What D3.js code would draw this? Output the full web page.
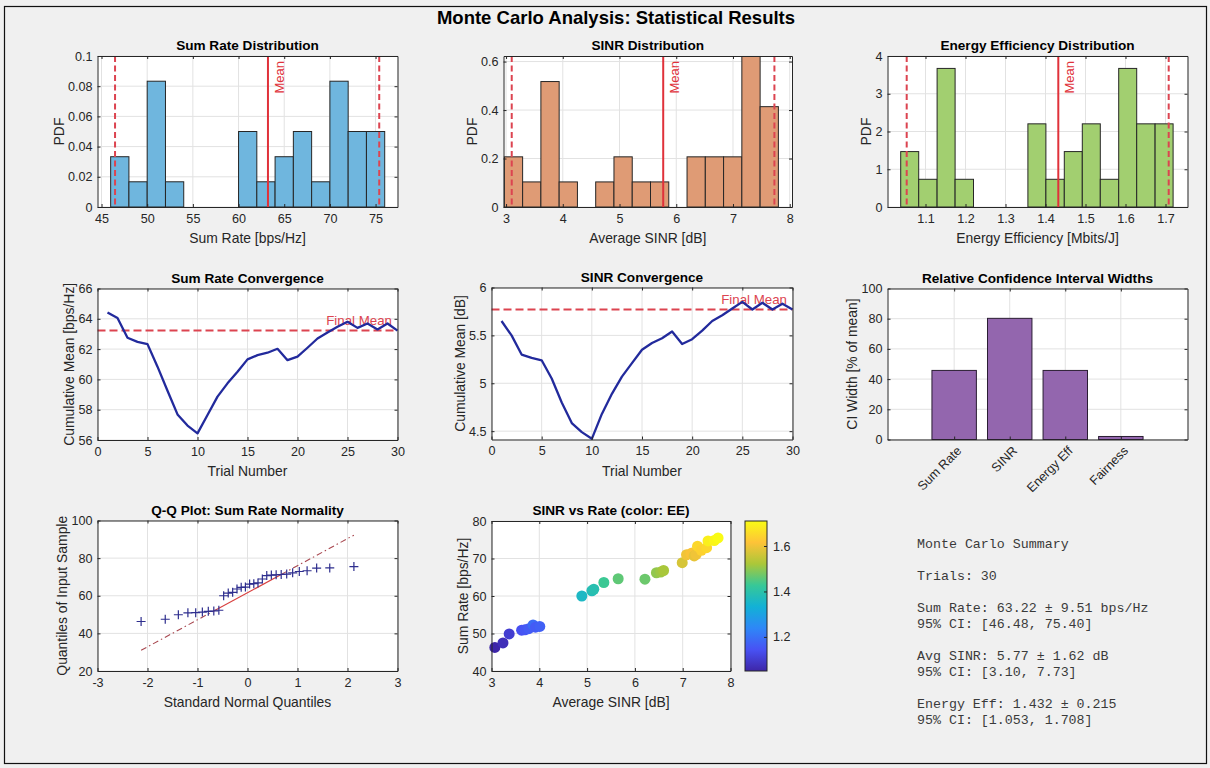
<!DOCTYPE html>
<html>
<head>
<meta charset="utf-8">
<script src="https://cdn.jsdelivr.net/npm/d3@7"></script>
<style>
  body { margin: 0; background: #f0f0f0; }
  svg { display: block; font-family: "Liberation Sans", Arial, Helvetica, sans-serif; }
</style>
</head>
<body>
<svg id="fig" width="1210" height="768"></svg>
<script>
// ---------------- data ----------------
const nTrials = 30;

const sumRateMean = 63.22, sumRateStd = 9.51, sumRateCI = [46.48, 75.40];
const sinrMean = 5.77, sinrStd = 1.62, sinrCI = [3.10, 7.73];
const eeMean = 1.432, eeStd = 0.215, eeCI = [1.053, 1.708];

// histogram bin edges and normalised (pdf) heights
const sumRateEdges = [46, 48, 50, 52, 54, 56, 58, 60, 62, 64, 66, 68, 70, 72, 74, 76];
const sumRatePdf = [0.0333, 0.0167, 0.0833, 0.0167, 0, 0, 0, 0.05, 0.0167, 0.0333, 0.05, 0.0167, 0.0833, 0.05, 0.05];

const sinrEdges = [2.970, 3.292, 3.614, 3.936, 4.258, 4.580, 4.902, 5.224, 5.546, 5.868, 6.190, 6.512, 6.834, 7.156, 7.478, 7.800];
const sinrPdf = [0.207, 0.1035, 0.5176, 0.1035, 0, 0.1035, 0.207, 0.1035, 0.1035, 0, 0.207, 0.207, 0.207, 0.621, 0.414];

const eeEdges = [1.038, 1.083, 1.129, 1.174, 1.220, 1.265, 1.310, 1.356, 1.401, 1.447, 1.492, 1.537, 1.583, 1.628, 1.674, 1.719];
const eePdf = [1.468, 0.734, 3.671, 0.734, 0, 0, 0, 2.203, 0.734, 1.468, 2.203, 0.734, 3.671, 2.203, 2.203];

// running (cumulative) means per trial
const trialNumbers = d3.range(1, nTrials + 1);
const sumRateCumMean = [64.42, 64.05, 62.75, 62.48, 62.33, 60.84, 59.25, 57.69, 56.95, 56.44,
                        57.65, 58.86, 59.74, 60.50, 61.32, 61.60, 61.76, 62.02, 61.27, 61.50,
                        62.09, 62.70, 63.10, 63.47, 63.80, 63.40, 63.69, 63.30, 63.69, 63.22];
const sinrCumMean = [5.65, 5.50, 5.30, 5.265, 5.24, 5.05, 4.80, 4.585, 4.49, 4.42,
                     4.68, 4.89, 5.07, 5.21, 5.35, 5.42, 5.47, 5.54, 5.41, 5.46,
                     5.55, 5.65, 5.71, 5.78, 5.85, 5.77, 5.84, 5.77, 5.83, 5.77];

// relative confidence-interval widths [% of mean]
const ciCategories = ["Sum Rate", "SINR", "Energy Eff", "Fairness"];
const ciWidths = [45.75, 80.24, 45.74, 2.0];

// per-trial samples: average SINR [dB], sum rate [bps/Hz], energy efficiency [Mbits/J]
const sampleSinr = [3.07, 3.24, 3.37, 3.63, 3.70, 3.78, 3.87, 3.92, 4.01,
                    4.89, 5.10, 5.14, 5.35, 5.65, 6.21, 6.45, 6.54, 6.60,
                    6.99, 7.08, 7.17, 7.20, 7.24, 7.28, 7.31, 7.39, 7.50, 7.53, 7.66, 7.74];
const sampleRate = [46.3, 47.5, 49.9, 50.9, 51.0, 51.3, 52.3, 51.7, 51.9,
                    60.0, 61.4, 61.8, 63.6, 64.6, 64.5, 66.2, 66.4, 66.8,
                    68.9, 71.0, 71.3, 71.5, 70.7, 71.1, 73.3, 72.2, 72.9, 74.7, 74.8, 75.5];
const sampleEE = [1.05, 1.07, 1.10, 1.14, 1.15, 1.16, 1.19, 1.16, 1.17,
                  1.36, 1.38, 1.39, 1.43, 1.46, 1.47, 1.50, 1.51, 1.52,
                  1.57, 1.60, 1.61, 1.61, 1.59, 1.60, 1.65, 1.64, 1.65, 1.69, 1.70, 1.71];

// standard normal quantiles for n = 30, p = (i - 0.5) / n
const qqTheoretical = [-2.128, -1.645, -1.383, -1.192, -1.036, -0.903, -0.784, -0.674, -0.573, -0.477,
                       -0.385, -0.297, -0.210, -0.126, -0.042, 0.042, 0.126, 0.210, 0.297, 0.385,
                       0.477, 0.573, 0.674, 0.784, 0.903, 1.036, 1.192, 1.383, 1.645, 2.128];
// reference line through the quartiles, extended to the data range
const qqLineX = [-2.128, -0.674, 0.674, 2.128];
const qqLineY = [31.0, 51.9, 71.3, 92.2];

// parula colour map key colours (evenly spaced)
const parulaColors = [
  [0.2422, 0.1504, 0.6603], [0.2810, 0.3228, 0.9579], [0.1786, 0.5289, 0.9682], [0.0689, 0.6948, 0.8394],
  [0.2161, 0.7843, 0.5923], [0.6720, 0.7793, 0.2227], [0.9970, 0.7659, 0.2199], [0.9769, 0.9839, 0.0805]
];

// ---------------- drawing ----------------
const svg = d3.select("#fig");
const AX = "#262626", GRID = "#e2e2e2", RED = "#e0313a", RED_DASH = "#dc4450";
const TICK_FS = 12.6, LABEL_FS = 13.9, TITLE_FS = 13.6;
const fmt = d => String(+d.toFixed(6));

svg.append("rect").attr("width", 1210).attr("height", 768).attr("fill", "#f0f0f0");
svg.append("rect").attr("x", 4.5).attr("y", 6.5).attr("width", 1202).attr("height", 757)
  .attr("fill", "none").attr("stroke", "#111").attr("stroke-width", 1.2);

svg.append("text").attr("x", 616).attr("y", 23.5).attr("text-anchor", "middle")
  .attr("font-size", 18.5).attr("font-weight", "bold").attr("fill", "#000")
  .text("Monte Carlo Analysis: Statistical Results");

function makePanel(p) {
  const x = d3.scaleLinear().domain(p.xDomain).range([p.x0, p.x0 + p.w]);
  const y = d3.scaleLinear().domain(p.yDomain).range([p.y0 + p.h, p.y0]);
  const g = svg.append("g");
  g.append("rect").attr("x", p.x0).attr("y", p.y0).attr("width", p.w).attr("height", p.h).attr("fill", "#fff");
  const grid = g.append("g").attr("stroke", GRID).attr("stroke-width", 1);
  grid.selectAll("line.gx").data(p.xTicks).join("line").attr("class", "gx")
    .attr("x1", d => x(d)).attr("x2", d => x(d)).attr("y1", p.y0).attr("y2", p.y0 + p.h);
  grid.selectAll("line.gy").data(p.yTicks).join("line").attr("class", "gy")
    .attr("y1", d => y(d)).attr("y2", d => y(d)).attr("x1", p.x0).attr("x2", p.x0 + p.w);
  const marks = g.append("g");
  return { x, y, g, marks, p };
}

function styleAxis(sel) {
  sel.attr("font-family", null).attr("font-size", null);
  sel.select("path.domain").attr("stroke", AX).attr("stroke-width", 1);
  sel.selectAll(".tick line").attr("stroke", AX);
  sel.selectAll(".tick text").attr("fill", AX).attr("font-size", TICK_FS);
}

function finishPanel(P) {
  const { x, y, g, p } = P;
  const bottom = p.y0 + p.h, right = p.x0 + p.w;
  const xFormat = p.xFormat || fmt;
  g.append("g").attr("transform", `translate(0,${p.y0})`)
    .call(d3.axisTop(x).tickValues(p.xTicks).tickFormat("").tickSizeInner(-3).tickSizeOuter(0)).call(styleAxis);
  g.append("g").attr("transform", `translate(${right},0)`)
    .call(d3.axisRight(y).tickValues(p.yTicks).tickFormat("").tickSizeInner(-3).tickSizeOuter(0)).call(styleAxis);
  g.append("g").attr("transform", `translate(0,${bottom})`)
    .call(d3.axisBottom(x).tickValues(p.xTicks).tickFormat(xFormat).tickSizeInner(-3).tickSizeOuter(0).tickPadding(7))
    .call(styleAxis);
  const left = g.append("g").attr("transform", `translate(${p.x0},0)`)
    .call(d3.axisLeft(y).tickValues(p.yTicks).tickFormat(fmt).tickSizeInner(-3).tickSizeOuter(0).tickPadding(5))
    .call(styleAxis);

  g.append("text").attr("x", p.x0 + p.w / 2).attr("y", p.y0 - 6).attr("text-anchor", "middle")
    .attr("font-size", TITLE_FS).attr("font-weight", "bold").attr("fill", "#000").text(p.title);
  if (p.xLabel) {
    g.append("text").attr("x", p.x0 + p.w / 2).attr("y", bottom + 36).attr("text-anchor", "middle")
      .attr("font-size", LABEL_FS).attr("fill", AX).text(p.xLabel);
  }
  if (p.yLabel) {
    const bb = left.node().getBBox();
    g.append("text").attr("transform", `translate(${p.x0 + bb.x - 4},${p.y0 + p.h / 2}) rotate(-90)`)
      .attr("text-anchor", "middle").attr("font-size", LABEL_FS).attr("fill", AX).text(p.yLabel);
  }
}

function histogram(P, edges, pdf, fill, mean, ci) {
  const bins = pdf.map((v, i) => ({ x0: edges[i], x1: edges[i + 1], v })).filter(b => b.v > 0);
  P.marks.selectAll("rect.bar").data(bins).join("rect").attr("class", "bar")
    .attr("x", d => P.x(d.x0)).attr("width", d => P.x(d.x1) - P.x(d.x0))
    .attr("y", d => P.y(d.v)).attr("height", d => P.y(0) - P.y(d.v))
    .attr("fill", fill).attr("stroke", "#262626").attr("stroke-width", 1);
  const top = P.p.y0, bot = P.p.y0 + P.p.h;
  P.marks.selectAll("line.ci").data(ci).join("line").attr("class", "ci")
    .attr("x1", d => P.x(d)).attr("x2", d => P.x(d)).attr("y1", top).attr("y2", bot)
    .attr("stroke", RED_DASH).attr("stroke-width", 2).attr("stroke-dasharray", "6,3.5");
  P.marks.append("line").attr("x1", P.x(mean)).attr("x2", P.x(mean)).attr("y1", top).attr("y2", bot)
    .attr("stroke", RED).attr("stroke-width", 2);
  P.marks.append("text").attr("transform", `translate(${P.x(mean) + 6},${top + 5}) rotate(-90)`)
    .attr("text-anchor", "end").attr("dominant-baseline", "hanging")
    .attr("font-size", 13).attr("fill", RED).text("Mean");
}

function convergence(P, values, finalMean) {
  const line = d3.line().x((d, i) => P.x(trialNumbers[i])).y(d => P.y(d));
  P.marks.append("line").attr("x1", P.p.x0).attr("x2", P.p.x0 + P.p.w)
    .attr("y1", P.y(finalMean)).attr("y2", P.y(finalMean))
    .attr("stroke", RED_DASH).attr("stroke-width", 2).attr("stroke-dasharray", "8,4");
  P.marks.append("text").attr("x", P.p.x0 + P.p.w - 5.5).attr("y", P.y(finalMean) - 6)
    .attr("text-anchor", "end").attr("font-size", 13.3).attr("fill", RED_DASH).text("Final Mean");
  P.marks.append("path").datum(values).attr("d", line).attr("fill", "none")
    .attr("stroke", "#222a9c").attr("stroke-width", 2.3).attr("stroke-linejoin", "round");
}

// ---- row 1: distributions ----
const p1 = makePanel({ x0: 97.5, y0: 56, w: 300, h: 151, xDomain: [44.56, 77.4], yDomain: [0, 0.1],
  xTicks: [45, 50, 55, 60, 65, 70, 75], yTicks: [0, 0.02, 0.04, 0.06, 0.08, 0.1],
  title: "Sum Rate Distribution", xLabel: "Sum Rate [bps/Hz]", yLabel: "PDF" });
histogram(p1, sumRateEdges, sumRatePdf, "#6fb6de", sumRateMean, sumRateCI);
finishPanel(p1);

const p2 = makePanel({ x0: 503.5, y0: 56, w: 288.5, h: 151, xDomain: [2.955, 8.04], yDomain: [0, 0.623],
  xTicks: [3, 4, 5, 6, 7, 8], yTicks: [0, 0.2, 0.4, 0.6],
  title: "SINR Distribution", xLabel: "Average SINR [dB]", yLabel: "PDF" });
histogram(p2, sinrEdges, sinrPdf, "#df9b75", sinrMean, sinrCI);
finishPanel(p2);

const p3 = makePanel({ x0: 887.5, y0: 56, w: 300, h: 151, xDomain: [1.005, 1.755], yDomain: [0, 4],
  xTicks: [1.1, 1.2, 1.3, 1.4, 1.5, 1.6, 1.7], yTicks: [0, 1, 2, 3, 4],
  title: "Energy Efficiency Distribution", xLabel: "Energy Efficiency [Mbits/J]", yLabel: "PDF" });
histogram(p3, eeEdges, eePdf, "#a2cf70", eeMean, eeCI);
finishPanel(p3);

// ---- row 2: convergence and CI widths ----
const p4 = makePanel({ x0: 97.5, y0: 288.5, w: 300, h: 151.5, xDomain: [0, 30], yDomain: [56, 66],
  xTicks: [0, 5, 10, 15, 20, 25, 30], yTicks: [56, 58, 60, 62, 64, 66],
  title: "Sum Rate Convergence", xLabel: "Trial Number", yLabel: "Cumulative Mean [bps/Hz]" });
convergence(p4, sumRateCumMean, sumRateMean);
finishPanel(p4);

const p5 = makePanel({ x0: 491.5, y0: 287.5, w: 301, h: 152, xDomain: [0, 30], yDomain: [4.413, 6],
  xTicks: [0, 5, 10, 15, 20, 25, 30], yTicks: [4.5, 5, 5.5, 6],
  title: "SINR Convergence", xLabel: "Trial Number", yLabel: "Cumulative Mean [dB]" });
convergence(p5, sinrCumMean, sinrMean);
finishPanel(p5);

const p6 = makePanel({ x0: 887.5, y0: 288.5, w: 300, h: 151, xDomain: [-0.2, 5.2], yDomain: [0, 100],
  xTicks: [1, 2, 3, 4], yTicks: [0, 20, 40, 60, 80, 100], xFormat: () => "",
  title: "Relative Confidence Interval Widths", yLabel: "CI Width [% of mean]" });
p6.marks.selectAll("rect.ci").data(ciWidths).join("rect").attr("class", "ci")
  .attr("x", (d, i) => p6.x(i + 1 - 0.4)).attr("width", (d, i) => p6.x(i + 1.4) - p6.x(i + 0.6))
  .attr("y", d => p6.y(d)).attr("height", d => p6.y(0) - p6.y(d))
  .attr("fill", "#9366ae").attr("stroke", "#2a1d33").attr("stroke-width", 1);
finishPanel(p6);
p6.g.selectAll("text.cat").data(ciCategories).join("text").attr("class", "cat")
  .attr("transform", (d, i) => `translate(${p6.x(i + 1) + 5},${p6.p.y0 + p6.p.h + 9}) rotate(-45)`)
  .attr("text-anchor", "end").attr("dy", "0.35em").attr("font-size", TICK_FS).attr("fill", AX).text(d => d);

// ---- row 3: Q-Q plot, scatter, summary ----
const p7 = makePanel({ x0: 97.5, y0: 520.5, w: 300, h: 150.5, xDomain: [-3, 3], yDomain: [20, 100],
  xTicks: [-3, -2, -1, 0, 1, 2, 3], yTicks: [20, 40, 60, 80, 100],
  title: "Q-Q Plot: Sum Rate Normality", xLabel: "Standard Normal Quantiles", yLabel: "Quantiles of Input Sample" });
const qqSorted = d3.sort(sampleRate);
const qqPts = qqTheoretical.map((q, i) => [q, qqSorted[i]]);
const qqLine = qqLineX.map((q, i) => [q, qqLineY[i]]);
const segLine = d3.line().x(d => p7.x(d[0])).y(d => p7.y(d[1]));
p7.marks.append("path").attr("d", segLine([qqLine[0], qqLine[1]])).attr("stroke", "#a8474f").attr("stroke-width", 1.1)
  .attr("fill", "none").attr("stroke-dasharray", "6,3,1.5,3");
p7.marks.append("path").attr("d", segLine([qqLine[2], qqLine[3]])).attr("stroke", "#a8474f").attr("stroke-width", 1.1)
  .attr("fill", "none").attr("stroke-dasharray", "6,3,1.5,3");
p7.marks.append("path").attr("d", segLine([qqLine[1], qqLine[2]])).attr("stroke", "#d9403f").attr("stroke-width", 1.2)
  .attr("fill", "none");
p7.marks.selectAll("path.plus").data(qqPts).join("path").attr("class", "plus")
  .attr("d", d => { const cx = p7.x(d[0]), cy = p7.y(d[1]), s = 4.5;
    return `M${cx - s},${cy}H${cx + s}M${cx},${cy - s}V${cy + s}`; })
  .attr("stroke", "#2e2e8e").attr("stroke-width", 1.2).attr("fill", "none");
finishPanel(p7);

const eeExtent = d3.extent(sampleEE);
const parulaHex = parulaColors.map(c => d3.rgb(c[0] * 255, c[1] * 255, c[2] * 255).formatHex());
const parulaOffsets = parulaHex.map((c, i) => i / (parulaHex.length - 1));
const parula = d3.scaleLinear().domain(parulaOffsets).range(parulaHex).interpolate(d3.interpolateRgb);
const eeColor = v => parula((v - eeExtent[0]) / (eeExtent[1] - eeExtent[0]));

const p8 = makePanel({ x0: 491.5, y0: 521, w: 239, h: 150, xDomain: [3, 8], yDomain: [40, 80],
  xTicks: [3, 4, 5, 6, 7, 8], yTicks: [40, 50, 60, 70, 80],
  title: "SINR vs Rate (color: EE)", xLabel: "Average SINR [dB]", yLabel: "Sum Rate [bps/Hz]" });
p8.marks.selectAll("circle").data(d3.range(sampleSinr.length)).join("circle")
  .attr("cx", i => p8.x(sampleSinr[i])).attr("cy", i => p8.y(sampleRate[i])).attr("r", 5.5)
  .attr("fill", i => eeColor(sampleEE[i]));
finishPanel(p8);

// colour bar
const cb = { x0: 745, y0: 521, w: 22, h: 150 };
const grad = svg.append("defs").append("linearGradient").attr("id", "parulaGrad")
  .attr("x1", 0).attr("y1", 1).attr("x2", 0).attr("y2", 0);
grad.selectAll("stop").data(parulaHex).join("stop")
  .attr("offset", (d, i) => parulaOffsets[i]).attr("stop-color", d => d);
svg.append("rect").attr("x", cb.x0).attr("y", cb.y0).attr("width", cb.w).attr("height", cb.h)
  .attr("fill", "url(#parulaGrad)").attr("stroke", AX).attr("stroke-width", 1);
const cbScale = d3.scaleLinear().domain(eeExtent).range([cb.y0 + cb.h, cb.y0]);
svg.append("g").attr("transform", `translate(${cb.x0 + cb.w},0)`)
  .call(d3.axisRight(cbScale).tickValues([1.2, 1.4, 1.6]).tickFormat(fmt).tickSizeInner(-3).tickSizeOuter(0).tickPadding(6))
  .call(styleAxis).call(s => s.select("path.domain").remove());

// summary text
const summaryLines = [
  "Monte Carlo Summary",
  "",
  `Trials: ${nTrials}`,
  "",
  `Sum Rate: ${sumRateMean.toFixed(2)} \u00b1 ${sumRateStd.toFixed(2)} bps/Hz`,
  `95% CI: [${sumRateCI[0].toFixed(2)}, ${sumRateCI[1].toFixed(2)}]`,
  "",
  `Avg SINR: ${sinrMean.toFixed(2)} \u00b1 ${sinrStd.toFixed(2)} dB`,
  `95% CI: [${sinrCI[0].toFixed(2)}, ${sinrCI[1].toFixed(2)}]`,
  "",
  `Energy Eff: ${eeMean.toFixed(3)} \u00b1 ${eeStd.toFixed(3)}`,
  `95% CI: [${eeCI[0].toFixed(3)}, ${eeCI[1].toFixed(3)}]`
];
svg.append("g").selectAll("text").data(summaryLines).join("text")
  .attr("x", 917).attr("y", (d, i) => 548 + i * 16)
  .attr("font-family", "'Liberation Mono', 'Courier New', monospace").attr("font-size", 13.3)
  .attr("fill", "#3a3a3a").attr("xml:space", "preserve").text(d => d);
</script>
</body>
</html>
